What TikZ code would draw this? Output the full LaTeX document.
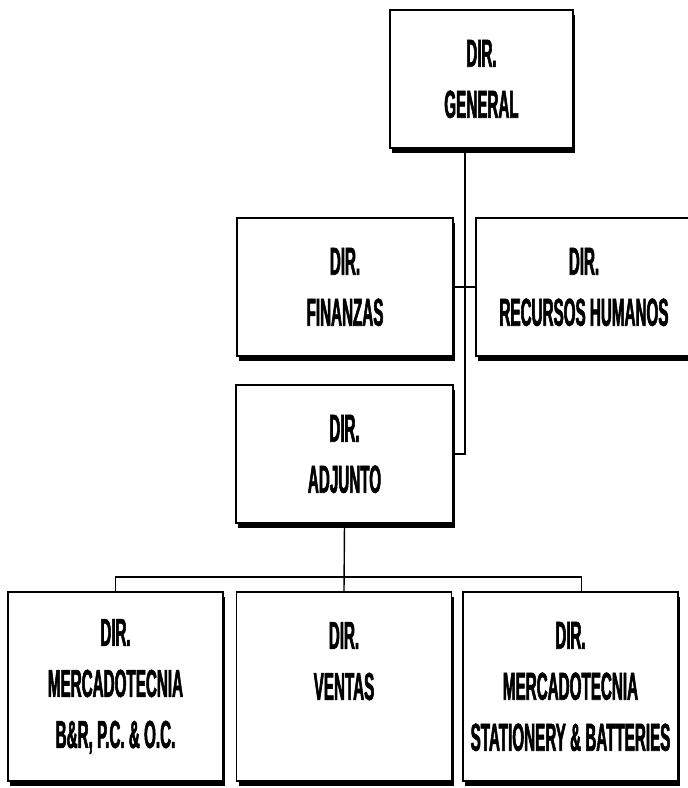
\documentclass[tikz,border=0pt]{standalone}
\usepackage{fontspec}
\newfontfamily\orgfont[FakeStretch=0.39,FakeBold=1.4]{Liberation Sans}
\usetikzlibrary{positioning,shadows}

\begin{document}
\begin{tikzpicture}[
    x=1pt, y=-1pt,
    dirbox/.style={rectangle, draw, line width=1.6pt, fill=white,
                   general shadow={shadow xshift=2pt, shadow yshift=-5pt, fill=black},
                   align=center, inner sep=0pt,
                   font=\orgfont\bfseries\fontsize{39}{51}\selectfont},
    midbox/.style={dirbox, minimum width=216pt, minimum height=138pt},
    lowbox/.style={dirbox, minimum width=215pt, minimum height=189pt},
    link/.style={line width=1.4pt},
  ]
  \useasboundingbox (0,0) rectangle (688,788);

  % === Top ===
  \node[dirbox, minimum width=183pt, minimum height=138pt] (gen) at (481.5, 79) {DIR.\\GENERAL};

  % === Staff ===
  \node[midbox] (fin)  at (345, 287) {DIR.\\FINANZAS};
  \node[midbox] (rrhh) at (584, 287) {DIR.\\RECURSOS HUMANOS};

  % === Adjunto ===
  \node[midbox, minimum width=217pt] (adj) at (344.5, 454) {DIR.\\ADJUNTO};

  % === Bottom row ===
  \node[lowbox] (merc1)  at (115.5, 686.5) {DIR.\\MERCADOTECNIA\\B\&R, P.C. \& O.C.};
  \node[lowbox] (ventas) at (344, 686.5)   {DIR.\\VENTAS\\\mbox{}};
  \node[lowbox] (merc2)  at (570.5, 686.5) {DIR.\\MERCADOTECNIA\\STATIONERY \& BATTERIES};

  % trunk
  \coordinate (tk) at (465, 0);
  \draw[link] (gen.south -| tk) |- (adj.east);
  \draw[link] (fin.east) -- (rrhh.west);

  % Adjunto -> bottom row
  \coordinate (bus) at (345, 577);
  \draw[link] (adj.south) -- (ventas.north);
  \draw[link] (merc1.north) |- (bus) -| ([xshift=11pt]merc2.north);

\end{tikzpicture}
\end{document}
